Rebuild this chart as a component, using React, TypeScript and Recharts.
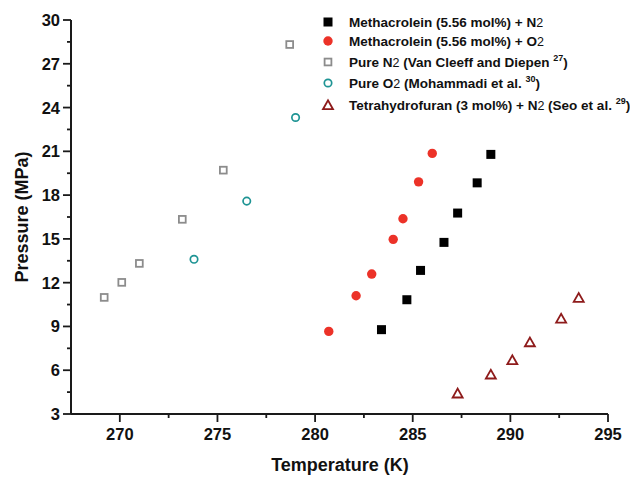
import React from 'react';
import { ScatterChart, Scatter, XAxis, YAxis, Customized } from 'recharts';

// Temperature (K) and Pressure (MPa) per series
const metN2T = [283.4, 284.7, 285.4, 286.6, 287.3, 288.3, 289.0];
const metN2P = [8.78, 10.83, 12.84, 14.76, 16.77, 18.84, 20.79];
const metO2T = [280.7, 282.1, 282.9, 284.0, 284.5, 285.3, 286.0];
const metO2P = [8.66, 11.1, 12.59, 14.97, 16.38, 18.91, 20.86];
const pureN2T = [269.2, 270.1, 271.0, 273.2, 275.3, 278.7];
const pureN2P = [10.99, 12.02, 13.32, 16.34, 19.71, 28.32];
const pureO2T = [273.8, 276.5, 279.0];
const pureO2P = [13.6, 17.59, 23.32];
const thfT = [287.3, 289.0, 290.1, 291.0, 292.6, 293.5];
const thfP = [4.42, 5.72, 6.7, 7.93, 9.55, 10.97];

const xTicks = [270, 272.5, 275, 277.5, 280, 282.5, 285, 287.5, 290, 292.5, 295];
const yTicks = [3, 4.5, 6, 7.5, 9, 10.5, 12, 13.5, 15, 16.5, 18, 19.5, 21, 22.5, 24, 25.5, 27, 28.5, 30];
const xMajor = [270, 275, 280, 285, 290, 295];
const yMajor = [3, 6, 9, 12, 15, 18, 21, 24, 27, 30];

const zip = (xs: number[], ys: number[]) => xs.map((x, i) => ({ x, y: ys[i] }));

const FONT = '"Liberation Sans", Arial, Helvetica, sans-serif';
const AXIS = '#1a1a1a';
const RED = '#ec3228';
const GRAY = '#8c8c8c';
const TEAL = '#1e9494';
const DARKRED = '#8e1b1b';

const FilledSquare = (p: any) => (
  <rect x={p.cx - 4.5} y={p.cy - 4.5} width={9} height={9} fill="#000" />
);
const FilledCircle = (p: any) => <circle cx={p.cx} cy={p.cy} r={4.7} fill={RED} />;
const OpenSquare = (p: any) => (
  <rect x={p.cx - 3.4} y={p.cy - 3.4} width={6.8} height={6.8} fill="#fff" stroke={GRAY} strokeWidth={1.8} />
);
const OpenCircle = (p: any) => (
  <circle cx={p.cx} cy={p.cy} r={3.7} fill="#fff" stroke={TEAL} strokeWidth={1.7} />
);
const OpenTriangle = (p: any) => (
  <polygon
    points={`${p.cx - 5},${p.cy + 4.2} ${p.cx + 5},${p.cy + 4.2} ${p.cx},${p.cy - 4.6}`}
    fill="#fff"
    stroke={DARKRED}
    strokeWidth={1.8}
    strokeLinejoin="miter"
  />
);

const XTick = (props: any) => {
  const { x, y, payload } = props;
  const v = payload.value;
  const major = xMajor.includes(v);
  return (
    <g>
      <line x1={x} x2={x} y1={y} y2={y + (major ? 8 : 4)} stroke={AXIS} strokeWidth={1.8} />
      {major && (
        <text x={x} y={y + 26} textAnchor="middle" fontFamily={FONT} fontWeight="bold" fontSize={16.5} fill="#111">
          {v}
        </text>
      )}
    </g>
  );
};

const YTick = (props: any) => {
  const { x, y, payload } = props;
  const v = payload.value;
  const major = yMajor.includes(v);
  return (
    <g>
      <line x1={x - (major ? 8 : 4)} x2={x} y1={y} y2={y} stroke={AXIS} strokeWidth={1.8} />
      {major && (
        <text x={x - 11} y={y + 6} textAnchor="end" fontFamily={FONT} fontWeight="bold" fontSize={16.5} fill="#111">
          {v}
        </text>
      )}
    </g>
  );
};

const Sub2 = () => (
  <tspan fontWeight="normal" fontSize={12.5}>2</tspan>
);
const Sup = ({ t }: { t: string }) => (
  <tspan fontSize={9} dy={-6}>{t}</tspan>
);

const Overlay = () => {
  const mx = 328;
  const tx = 349;
  const rows = [22, 41, 62, 83, 105];
  const ts = { fontFamily: FONT, fontWeight: 'bold' as const, fontSize: 13.5, fill: '#111' };
  return (
    <g>
      <FilledSquare cx={mx} cy={rows[0]} />
      <text x={tx} y={rows[0] + 5} {...ts}>Methacrolein (5.56 mol%) + N<Sub2 /></text>
      <FilledCircle cx={mx} cy={rows[1]} />
      <text x={tx} y={rows[1] + 5} {...ts}>Methacrolein (5.56 mol%) + O<Sub2 /></text>
      <OpenSquare cx={mx} cy={rows[2]} />
      <text x={tx} y={rows[2] + 5} {...ts}>
        Pure N<Sub2 /> (Van Cleeff and Diepen <Sup t="27" /><tspan dy={6}>)</tspan>
      </text>
      <OpenCircle cx={mx} cy={rows[3]} />
      <text x={tx} y={rows[3] + 5} {...ts}>
        Pure O<Sub2 /> (Mohammadi et al. <Sup t="30" /><tspan dy={6}>)</tspan>
      </text>
      <OpenTriangle cx={mx} cy={rows[4]} />
      <text x={tx} y={rows[4] + 5} {...ts}>
        Tetrahydrofuran (3 mol%) + N<Sub2 /> (Seo et al. <Sup t="29" /><tspan dy={6}>)</tspan>
      </text>
      <text x={340} y={471} textAnchor="middle" fontFamily={FONT} fontWeight="bold" fontSize={18} fill="#111">
        Temperature (K)
      </text>
      <text
        x={0}
        y={0}
        transform="translate(28,217) rotate(-90)"
        textAnchor="middle"
        fontFamily={FONT}
        fontWeight="bold"
        fontSize={18}
        fill="#111"
      >
        Pressure (MPa)
      </text>
    </g>
  );
};

export default function App() {
  return (
    <div style={{ position: 'absolute', left: 0, top: 0, width: 630, height: 477, background: '#fff' }}>
      <ScatterChart width={630} height={477} margin={{ top: 20, right: 22, bottom: 10, left: 0 }}>
        <XAxis
          type="number"
          dataKey="x"
          domain={[267.5, 295]}
          ticks={xTicks}
          allowDataOverflow
          height={53}
          tickSize={0}
          tickMargin={0}
          tickLine={false}
          axisLine={{ stroke: AXIS, strokeWidth: 2 }}
          tick={<XTick />}
          interval={0}
        />
        <YAxis
          type="number"
          dataKey="y"
          domain={[3, 30]}
          ticks={yTicks}
          allowDataOverflow
          width={71}
          tickSize={0}
          tickMargin={0}
          tickLine={false}
          axisLine={{ stroke: AXIS, strokeWidth: 2 }}
          tick={<YTick />}
          interval={0}
        />
        <Scatter data={zip(pureN2T, pureN2P)} shape={OpenSquare} isAnimationActive={false} />
        <Scatter data={zip(pureO2T, pureO2P)} shape={OpenCircle} isAnimationActive={false} />
        <Scatter data={zip(metO2T, metO2P)} shape={FilledCircle} isAnimationActive={false} />
        <Scatter data={zip(metN2T, metN2P)} shape={FilledSquare} isAnimationActive={false} />
        <Scatter data={zip(thfT, thfP)} shape={OpenTriangle} isAnimationActive={false} />
        <Customized component={Overlay} />
      </ScatterChart>
    </div>
  );
}
